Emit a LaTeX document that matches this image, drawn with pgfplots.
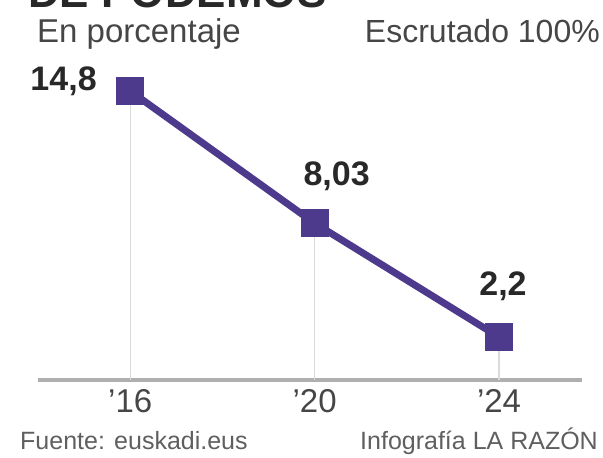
\documentclass[border=0pt]{standalone}
\usepackage{pgfplots}
\pgfplotsset{compat=1.18}
\usepackage{fontspec}
\setmainfont{Liberation Sans}
\definecolor{podemos}{RGB}{78,58,140}
\definecolor{txt}{RGB}{40,40,40}
\definecolor{sub}{RGB}{70,70,70}
\definecolor{foot}{RGB}{95,95,95}
\definecolor{axisgray}{RGB}{175,175,175}
\definecolor{stem}{RGB}{218,218,218}
\begin{document}
\begin{tikzpicture}[x=1pt,y=1pt]
\useasboundingbox (0,0) rectangle (603,458);
\clip (0,0) rectangle (603,458);
% titulo cortado arriba
\node[anchor=base west,inner sep=0,font=\fontsize{44}{44}\selectfont\bfseries,text=txt] at (28,450) {DE PODEMOS};
\node[anchor=base west,inner sep=0,font=\fontsize{33}{33}\selectfont,text=sub] at (37,415) {En porcentaje};
\node[anchor=base east,inner sep=0,font=\fontsize{32}{32}\selectfont,text=sub] at (600,415) {Escrutado 100\%};
\node[anchor=base west,inner sep=0,font=\fontsize{25}{25}\selectfont,text=foot] at (20,8) {Fuente: euskadi.eus};
\node[anchor=base east,inner sep=0,font=\fontsize{25}{25}\selectfont,text=foot] at (598,8) {Infografía LA RAZÓN};
\begin{axis}[
    at={(38pt,78pt)}, anchor=south west,
    scale only axis, width=544pt, height=320pt,
    xmin=14, xmax=25.8, ymin=0, ymax=16.39,
    axis y line=none,
    axis x line*=bottom,
    x axis line style={axisgray, line width=4pt},
    xtick={16,20,24},
    xticklabels={’16,’20,’24},
    major tick length=0pt,
    xticklabel style={font=\fontsize{33}{33}\selectfont, text=sub, yshift=-6pt},
    clip=false,
]
\addplot[ycomb, stem, line width=1.2pt, mark=none] coordinates {(16,14.8) (20,8.03) (24,2.2)};
\addplot[podemos, line width=7pt, mark=square*, mark size=13.5pt,
    mark options={fill=podemos, line width=0pt}] coordinates {(16,14.8) (20,8.03) (24,2.2)};
\node[anchor=east, font=\fontsize{34}{34}\selectfont\bfseries, text=txt, xshift=-30pt, yshift=10pt] at (axis cs:16,14.8) {14,8};
\node[font=\fontsize{34}{34}\selectfont\bfseries, text=txt, xshift=22pt, yshift=47pt] at (axis cs:20,8.03) {8,03};
\node[font=\fontsize{34}{34}\selectfont\bfseries, text=txt, xshift=4pt, yshift=51pt] at (axis cs:24,2.2) {2,2};
\end{axis}
\end{tikzpicture}
\end{document}
